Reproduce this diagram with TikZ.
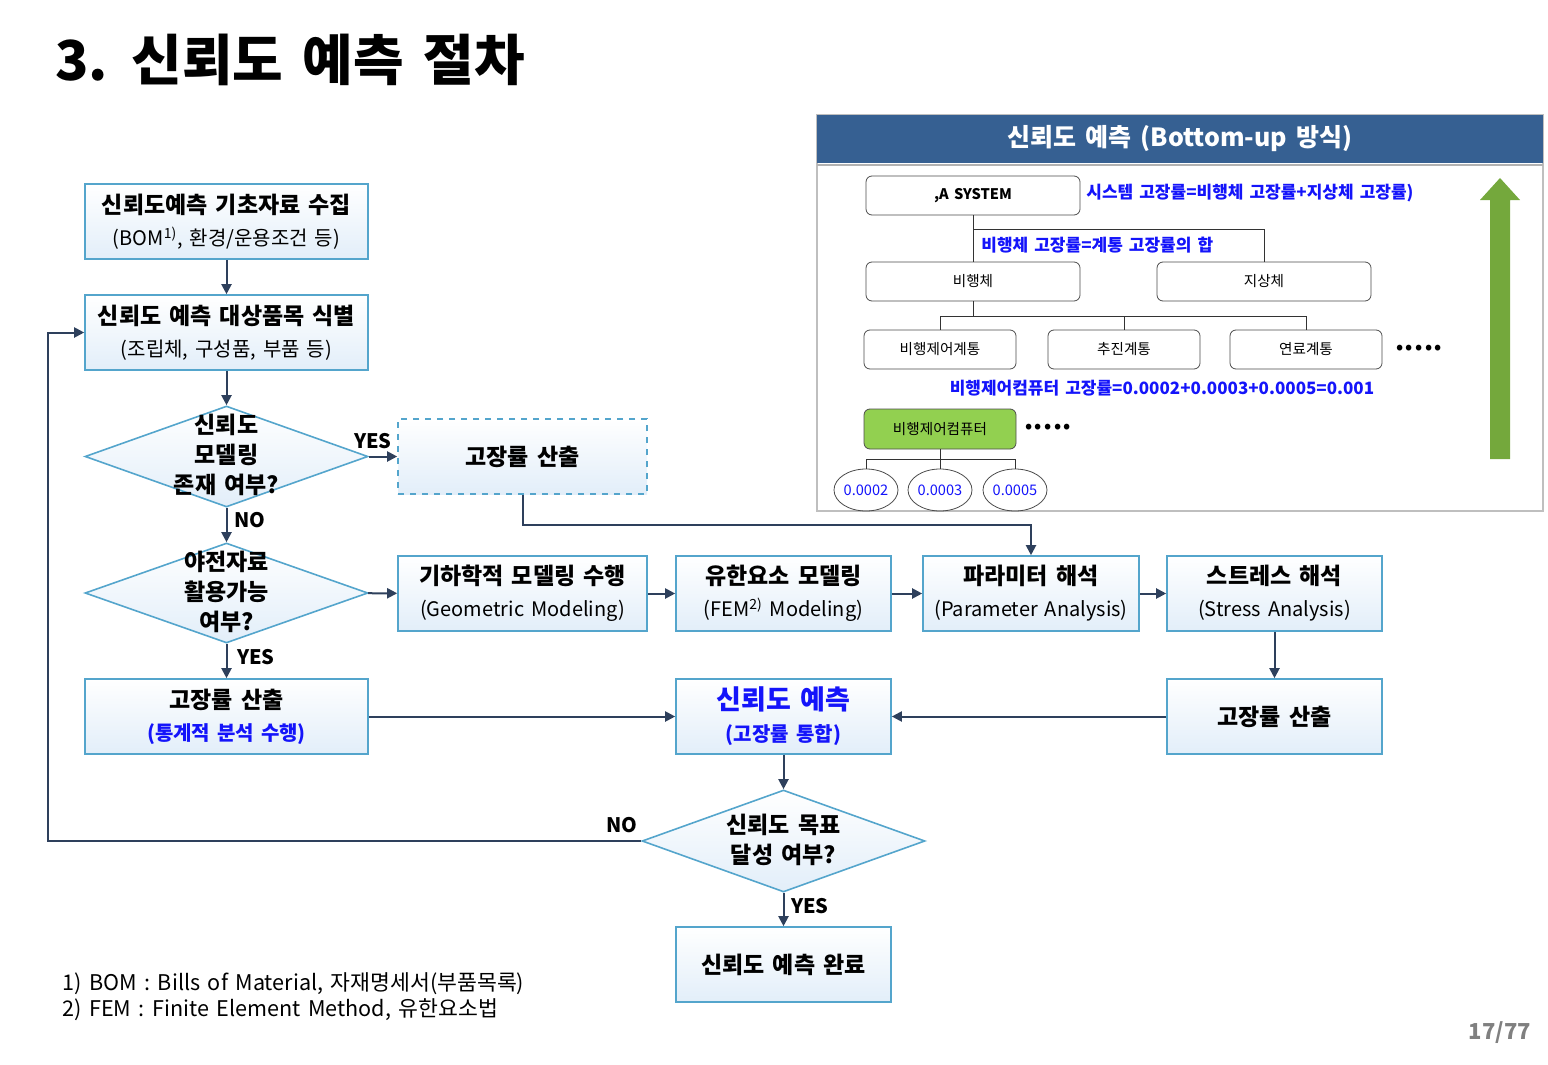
\documentclass[tikz,border=0pt]{standalone}
\usepackage{fontspec}
\setmainfont{Noto Sans CJK KR}[WordSpace=1.55]
\usetikzlibrary{shapes.geometric,arrows.meta}
\definecolor{boxline}{RGB}{84,165,204}
\definecolor{boxfill}{RGB}{226,238,249}
\definecolor{flowline}{RGB}{46,64,92}
\definecolor{hdrblue}{RGB}{54,96,146}
\definecolor{fccgreen}{RGB}{146,208,80}
\definecolor{upgreen}{RGB}{116,168,60}
\definecolor{ratebl}{RGB}{20,20,250}
\newcommand\subsize{\fontsize{10}{12}\selectfont}
\begin{document}
\begin{tikzpicture}[x=0.5pt,y=-0.5pt,
  box/.style={draw=boxline, line width=0.8pt, top color=white, bottom color=boxfill,
    align=center, inner sep=0pt, minimum height=37.5pt, font=\fontsize{11.5}{15}\selectfont},
  widebox/.style={box, minimum width=141.5pt},
  flowbox/.style={box, minimum width=124.5pt},
  midbox/.style={box, minimum width=107.5pt},
  decision/.style={diamond, draw=boxline, line width=0.8pt, top color=white, bottom color=boxfill,
    inner sep=0pt, minimum width=141.5pt},
  dectext/.style={align=center, font=\bfseries\fontsize{11.5}{15}\selectfont},
  answer/.style={font=\bfseries\fontsize{10}{12}\selectfont},
  flow/.style={draw=flowline, line width=1pt, -{Triangle[length=5pt,width=5pt]}},
  unit/.style={draw=black!70, fill=white, rounded corners=3pt, inner sep=0pt,
    minimum height=19.5pt, font=\fontsize{7.3}{9}\selectfont},
  rate/.style={text=ratebl, inner sep=0pt, font=\bfseries\fontsize{8.5}{10}\selectfont},
  tree/.style={draw=black!80, line width=0.5pt},
  leaf/.style={ellipse, draw=black!70, inner sep=0pt, minimum width=32pt, minimum height=21pt,
    text=ratebl, font=\fontsize{7.3}{9}\selectfont}]
\useasboundingbox (0,0) rectangle (1548,1065);

\node[anchor=west, font=\bfseries\fontsize{27.5}{30}\selectfont] (title) at (48,60) {3. 신뢰도 예측 절차};

% flow chart
\node[widebox] (collect) at (226.5,221.5) {{\bfseries 신뢰도예측 기초자료 수집}\\[1pt]{\subsize (BOM\textsuperscript{1)}, 환경/운용조건 등)}};
\node[widebox] (target) at (226.5,332.5) {{\bfseries 신뢰도 예측 대상품목 식별}\\[1pt]{\subsize (조립체, 구성품, 부품 등)}};
\node[decision, minimum height=50.5pt] (model) at (226.5,456.5) {};
\node[dectext] (modeltxt) at (226.5,455) {신뢰도\\모델링\\존재 여부?};
\node[flowbox, dashed, font=\bfseries\fontsize{11.5}{15}\selectfont] (rateA) at (522.5,456.5) {고장률 산출};
\node[decision, minimum height=50pt] (field) at (226.5,593) {};
\node[dectext] (fieldtxt) at (226.5,592) {야전자료\\활용가능\\여부?};
\node[flowbox] (geom) at (522.5,593.5) {{\bfseries 기하학적 모델링 수행}\\[1pt]{\subsize (Geometric Modeling)}};
\node[midbox] (fem) at (783.5,593.5) {{\bfseries 유한요소 모델링}\\[1pt]{\subsize (FEM\textsuperscript{2)} Modeling)}};
\node[midbox, minimum width=108pt] (param) at (1031,593.5) {{\bfseries 파라미터 해석}\\[1pt]{\subsize (Parameter Analysis)}};
\node[midbox] (stress) at (1274.5,593.5) {{\bfseries 스트레스 해석}\\[1pt]{\subsize (Stress Analysis)}};
\node[widebox] (rateB) at (226.5,716.5) {{\bfseries 고장률 산출}\\[1pt]{\subsize\bfseries\color{ratebl}(통계적 분석 수행)}};
\node[midbox] (predict) at (783.5,716.5) {{\bfseries\fontsize{13.5}{16}\selectfont\color{ratebl}신뢰도 예측}\\[1pt]{\subsize\bfseries\color{ratebl}(고장률 통합)}};
\node[midbox, font=\bfseries\fontsize{11.5}{15}\selectfont] (rateC) at (1274.5,716.5) {고장률 산출};
\node[decision, minimum height=51pt] (goal) at (783.5,841) {};
\node[dectext] (goaltxt) at (783.5,840) {신뢰도 목표\\달성 여부?};
\node[midbox, font=\bfseries\fontsize{11.5}{15}\selectfont] (done) at (783.5,964.5) {신뢰도 예측 완료};

\node[answer] (yes1) at (373,441) {YES};
\node[answer] (no1) at (250,520) {NO};
\node[answer] (yes2) at (256,657) {YES};
\node[answer] (no2) at (622,825) {NO};
\node[answer] (yes3) at (810,906) {YES};

\coordinate (back) at (48,841);
\draw[flow] (collect) -- (target);
\draw[flow] (target) -- (model);
\draw[flow] (model) -- (rateA);
\draw[flow] (model) -- (field);
\draw[flow] (field) -- (geom);
\draw[flow] (geom) -- (fem);
\draw[flow] (fem) -- (param);
\draw[flow] (param) -- (stress);
\draw[flow] (rateA.south) -- ++(0,30) -| (param.north);
\draw[flow] (field) -- (rateB);
\draw[flow] (stress) -- (rateC);
\draw[flow] (rateB) -- (predict);
\draw[flow] (rateC) -- (predict);
\draw[flow] (predict) -- (goal);
\draw[flow] (goal) -- (done);
\draw[flow] (goal.west) -- (back) |- (target.west);

% bottom-up panel
\draw[black!25, line width=0.8pt] (817,115) rectangle (1543,511);
\node[fill=hdrblue, text=white, inner sep=0pt, minimum width=363pt, minimum height=24pt,
  font=\bfseries\fontsize{12.5}{15}\selectfont] (hdr) at (1180,139) {신뢰도 예측 (Bottom-up 방식)};
\draw[black!30, line width=0.8pt] (817,165) -- (1543,165);

\node[unit, minimum width=107pt, font=\bfseries\fontsize{7.3}{9}\selectfont] (asys) at (973,195.5) {,A SYSTEM};
\node[unit, minimum width=107pt] (air) at (973,281.5) {비행체};
\node[unit, minimum width=107pt] (gnd) at (1264,281.5) {지상체};
\node[unit, minimum width=76pt] (fcs) at (940,349.5) {비행제어계통};
\node[unit, minimum width=76pt] (prop) at (1124,349.5) {추진계통};
\node[unit, minimum width=76pt] (fuel) at (1306,349.5) {연료계통};
\node[unit, minimum width=76pt, fill=fccgreen, minimum height=20pt] (fcc) at (940,429) {비행제어컴퓨터};
\node[leaf] (p1) at (866,490) {0.0002};
\node[leaf] (p2) at (940,490) {0.0003};
\node[leaf] (p3) at (1015,490) {0.0005};
\node[font=\bfseries\fontsize{9}{10}\selectfont] (more1) at (1419,349) {•\kern1.2pt•\kern1.2pt•\kern1.2pt•\kern1.2pt•};
\node[font=\bfseries\fontsize{9}{10}\selectfont] (more2) at (1048,428) {•\kern1.2pt•\kern1.2pt•\kern1.2pt•\kern1.2pt•};

\node[rate, anchor=west] (sysrate) at (1086,193) {시스템 고장률=비행체 고장률+지상체 고장률)};
\node[rate, anchor=west] (airrate) at (981,245) {비행체 고장률=계통 고장률의 합};
\node[rate] (fccrate) at (1162,388) {비행제어컴퓨터 고장률=0.0002+0.0003+0.0005=0.001};

\draw[tree] (asys) -- (air);
\draw[tree] (asys.south) ++(0,14) -| (gnd.north);
\draw[tree] (air.south) -- ++(0,15) coordinate (airj);
\draw[tree] (airj) -| (fcs.north) (airj) -| (prop.north) (airj) -| (fuel.north);
\draw[tree] (fcc.south) -- ++(0,10) coordinate (fccj);
\draw[tree] (fccj) -| (p1.north) (fccj) -| (p2.north) (fccj) -| (p3.north);

\fill[upgreen] (1490,459) -- (1490,200) -- (1480,200) -- (1500,178) -- (1520,200)
  -- (1510,200) -- (1510,459) -- cycle;

% notes
\node[anchor=west, inner sep=0pt, font=\fontsize{10.8}{12}\selectfont] (note1) at (62,984) {1) BOM : Bills of Material, 자재명세서(부품목록)};
\node[anchor=west, inner sep=0pt, font=\fontsize{10.8}{12}\selectfont] (note2) at (62,1010) {2) FEM : Finite Element Method, 유한요소법};
\node[text=black!50, font=\bfseries\fontsize{11}{13}\selectfont] (page) at (1500,1033) {17/77};
\end{tikzpicture}
\end{document}
